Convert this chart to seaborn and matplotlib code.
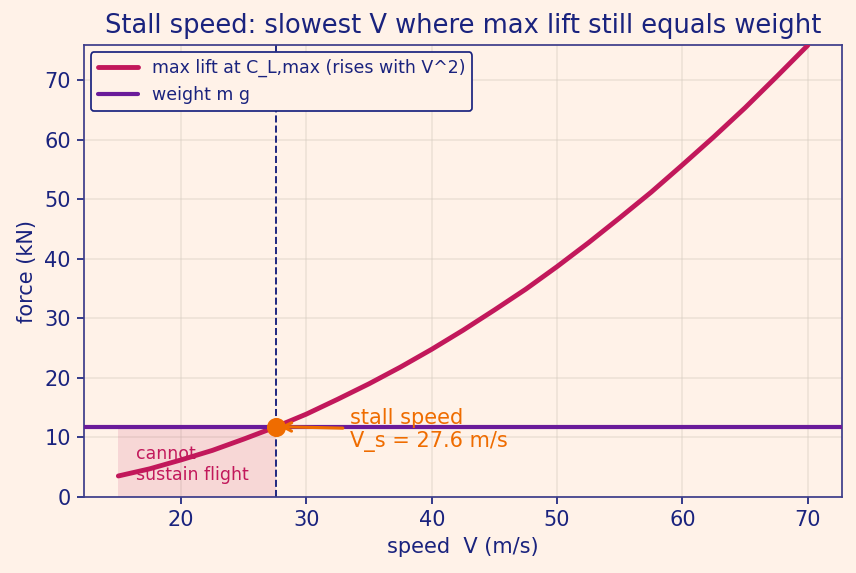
import matplotlib
matplotlib.use("Agg")
import matplotlib.pyplot as plt
import seaborn as sns
import pandas as pd

# speed (m/s) and max lift (kN)
speed = [15, 17.5, 20, 22.5, 25, 27.5, 30, 32.5, 35, 37.5, 40, 42.5, 45,
         47.5, 50, 52.5, 55, 57.5, 60, 62.5, 65, 67.5, 70]
max_lift = [3.5, 4.7, 6.2, 7.8, 9.7, 11.7, 13.9, 16.4, 19.0, 21.8, 24.8, 28.0, 31.4,
            34.9, 38.7, 42.7, 46.9, 51.2, 55.8, 60.5, 65.4, 70.6, 75.9]
weight = 11.8
stall_speed = 27.6

navy = "#1a237e"
crimson = "#c2185b"
purple = "#6a1b9a"
orange = "#ef6c00"
bg = "#fff2e8"

sns.set_theme(style="whitegrid")
plt.rcParams["font.family"] = ["DejaVu Sans"]

df = pd.DataFrame({"V": speed, "L": max_lift})

dpi = 125
fig = plt.figure(figsize=(856 / dpi, 573 / dpi), dpi=dpi, facecolor=bg)
ax = fig.add_axes([0.098, 0.133, 0.886, 0.788])
ax.set_facecolor(bg)

# region below stall speed
ax.fill_between([speed[0], stall_speed], 0, weight, color=crimson, alpha=0.12, lw=0, zorder=1)

sns.lineplot(data=df, x="V", y="L", ax=ax, color=crimson, lw=2.8,
             label="max lift at C_L,max (rises with V^2)", zorder=3)
ax.axhline(weight, color=purple, lw=2.4, label="weight m g", zorder=3)
ax.axvline(stall_speed, color=navy, lw=1.1, ls="--", zorder=2)
ax.plot([stall_speed], [weight], "o", color=orange, ms=10, zorder=5)

ax.annotate("stall speed\nV_s = 27.6 m/s", xy=(stall_speed, weight), xytext=(33.5, 11.2),
            color=orange, fontsize=12, va="center", ha="left",
            arrowprops=dict(arrowstyle="->", color=orange, lw=1.8))
ax.text(16.4, 5.4, "cannot\nsustain flight", color=crimson, fontsize=10,
        va="center", ha="left")

ax.set_ylim(0, max(max_lift))
ax.margins(x=0.05)
ax.set_title("Stall speed: slowest V where max lift still equals weight",
             color=navy, fontsize=14.8, pad=7)
ax.set_xlabel("speed  V (m/s)", color=navy, fontsize=12)
ax.set_ylabel("force (kN)", color=navy, fontsize=12)
ax.tick_params(colors=navy, labelsize=12, length=4, width=1, left=True, bottom=True)
ax.grid(color="#d9cfc4", alpha=0.5, lw=0.9)
for s in ax.spines.values():
    s.set_color("#3d3d8a")
    s.set_linewidth(1.0)

leg = ax.legend(loc="upper left", fontsize=10, facecolor=bg, edgecolor=navy,
                framealpha=1, handlelength=2.3, borderaxespad=0.4)
for t in leg.get_texts():
    t.set_color(navy)
leg.get_frame().set_linewidth(1)

fig.savefig("out.png", dpi=dpi, facecolor=bg)
